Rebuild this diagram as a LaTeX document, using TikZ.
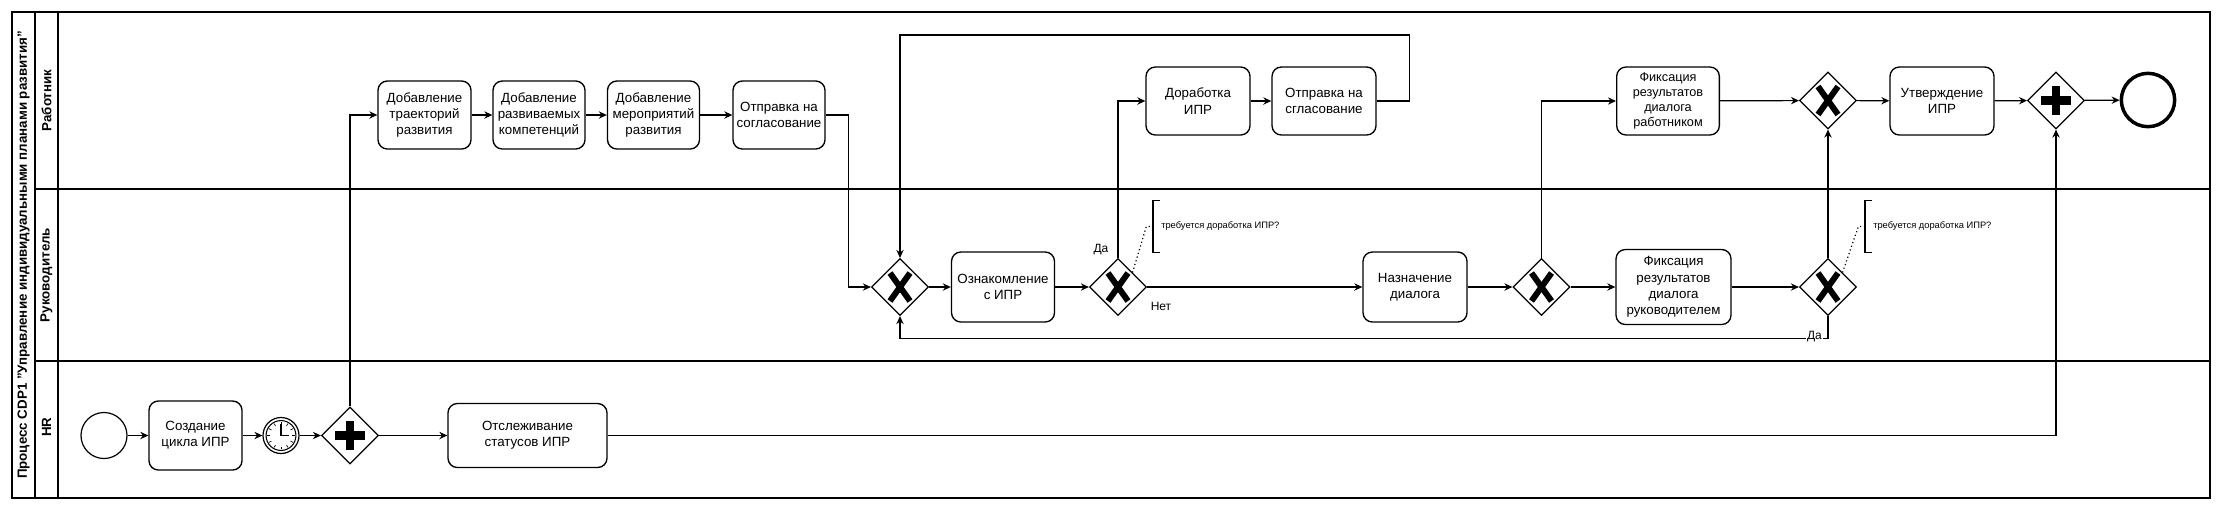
\documentclass[tikz,border=0pt]{standalone}
\usepackage{fontspec}
\setmainfont{Liberation Sans}
\usetikzlibrary{shapes.geometric, arrows.meta}

\begin{document}
\begin{tikzpicture}[x=0.75pt, y=-0.75pt,
  tsk/.style={rectangle,rounded corners=7pt,draw,line width=1pt,align=center,font=\fontsize{10}{12.2}\selectfont,inner sep=1pt,minimum width=69pt,minimum height=51pt},
  gw/.style={diamond,draw,line width=0.9pt,minimum width=42.75pt,minimum height=42.75pt,inner sep=0pt},
  stev/.style={circle,draw,line width=0.9pt,minimum size=34.5pt,inner sep=0pt},
  tmr/.style={circle,draw,line width=0.9pt,minimum size=27pt,inner sep=0pt},
  endev/.style={circle,draw,line width=2.6pt,minimum size=40pt,inner sep=0pt},
  ttl/.style={rotate=90,font=\bfseries\fontsize{10}{12}\selectfont},
  flow/.style={-{Stealth[length=6pt,width=5.5pt]},line width=0.9pt},
  xmark/.style={line width=4.5pt},
  pmark/.style={line width=6.5pt},
  note/.style={anchor=west,font=\fontsize{7}{8}\selectfont,minimum height=38.25pt,inner xsep=6pt,inner ysep=0pt},
  brk/.style={line width=0.9pt},
  assoc/.style={dotted,line width=0.9pt},
  lbl/.style={font=\fontsize{9}{10}\selectfont,inner sep=1pt}
]
  \useasboundingbox (0,0) rectangle (2225,512);
  % пул и дорожки
  \draw[line width=1pt] (12,12) rectangle (2210,498);
  \draw[line width=1pt] (35,12) -- (35,498) (58,12) -- (58,498);
  \draw[line width=1pt] (35,189) -- (2210,189) (35,361) -- (2210,361);
  \node[ttl] (pool) at (23.5,255) {Процесс CDP1 "Управление индивидуальными планами развития"};
  \node[ttl] (ln1) at (46.5,100.5) {Работник};
  \node[ttl] (ln2) at (46.5,275) {Руководитель};
  \node[ttl] (ln3) at (46.5,427) {HR};

  % Работник
  \node[tsk,minimum width=69.75pt] (t1) at (424.5,115) {Добавление\\траекторий\\развития};
  \node[tsk] (t2) at (539,115) {Добавление\\развиваемых\\компетенций};
  \node[tsk] (t3) at (653.5,115) {Добавление\\мероприятий\\развития};
  \node[tsk] (t4) at (779,115) {Отправка на\\согласование};
  \node[tsk,minimum width=78pt] (t5) at (1198,101) {Доработка\\ИПР};
  \node[tsk,minimum width=78pt] (t6) at (1324,101) {Отправка на\\сгласование};
  \node[tsk,minimum width=77pt,font=\fontsize{9.5}{11.3}\selectfont] (t7) at (1668,101) {Фиксация\\результатов\\диалога\\работником};
  \node[gw] (g5) at (1828,100.5) {};
  \node[tsk,minimum width=78pt] (t8) at (1942,101) {Утверждение\\ИПР};
  \node[gw] (g6) at (2056,100.5) {};
  \node[endev] (end) at (2148,100) {};

  % Руководитель
  \node[gw] (g1) at (900,287) {};
  \node[tsk,minimum width=77.25pt,minimum height=52.5pt] (t9) at (1003,287) {Ознакомление\\с ИПР};
  \node[gw] (g2) at (1118,287) {};
  \node[tsk,minimum width=78pt,minimum height=52.5pt] (t10) at (1415,287) {Назначение\\диалога};
  \node[gw] (g3) at (1541.5,287) {};
  \node[tsk,minimum width=86.25pt,minimum height=56.25pt] (t11) at (1673.5,287) {Фиксация\\результатов\\диалога\\руководителем};
  \node[gw] (g4) at (1828,287) {};

  % HR
  \node[stev] (st) at (104,435.5) {};
  \node[tsk,minimum width=69.75pt,minimum height=51.75pt] (t12) at (195.5,435.5) {Создание\\цикла ИПР};
  \node[tmr] (tm) at (281,435.5) {};
  \node[gw] (g0) at (350,435.5) {};
  \node[tsk,minimum width=119.25pt,minimum height=48pt] (t13) at (527.5,435.5) {Отслеживание\\статусов ИПР};

  % маркеры шлюзов и таймер
  \foreach \g in {g1,g2,g3,g4,g5}{
    \draw[xmark] (\g.center) ++(-7.5pt,-10.5pt) -- ++(15pt,21pt);
    \draw[xmark] (\g.center) ++(7.5pt,-10.5pt) -- ++(-15pt,21pt);
  }
  \foreach \g in {g0,g6}{
    \draw[pmark] (\g.center) ++(-11pt,0pt) -- ++(22pt,0pt);
    \draw[pmark] (\g.center) ++(0pt,-11pt) -- ++(0pt,22pt);
  }
  \draw[line width=0.8pt] (tm.center) circle[radius=11.2pt];
  \foreach \a in {0,30,...,330}{\draw[line width=0.5pt] (tm.center) ++(\a:8.3pt) -- ++(\a:2pt);}
  \draw[line width=0.8pt] (tm.center) ++(0pt,8.5pt) -- (tm.center) -- ++(6pt,0pt);

  % потоки HR
  \draw[flow] (st) -- (t12);
  \draw[flow] (t12) -- (tm);
  \draw[flow] (tm) -- (g0);
  \draw[flow] (g0) -- (t13);
  \draw[flow] (g0.north) |- (t1.west);
  \draw[flow] (t13.east) -| (g6.south);

  % потоки Работник
  \draw[flow] (t1) -- (t2);
  \draw[flow] (t2) -- (t3);
  \draw[flow] (t3) -- (t4);
  \draw[flow] (t4.east) -- ++(23,0) |- (g1.west);
  \draw[flow] (t5) -- (t6);
  \draw[flow] (t6.east) -| ++(33,-66) -| (g1.north);
  \draw[flow] (t7) -- (g5);
  \draw[flow] (g5) -- (t8);
  \draw[flow] (t8) -- (g6);
  \draw[flow] (g6) -- (end);

  % потоки Руководитель
  \draw[flow] (g1) -- (t9);
  \draw[flow] (t9) -- (g2);
  \draw[flow] (g2) -- (t10);
  \draw[flow] (g2.north) |- (t5.west);
  \draw[flow] (t10) -- (g3);
  \draw[flow] (g3.north) |- (t7.west);
  \draw[flow] (g3) -- (t11);
  \draw[flow] (t11) -- (g4);
  \draw[flow] (g4.north) -- (g5.south);
  \draw[flow] (g4.south) -- ++(0,22.5) -| (g1.south);
  \node[lbl] (yes1) at (1101,250) {Да};
  \node[lbl] (no1) at (1161,306) {Нет};
  \node[lbl,fill=white] (yes2) at (1814.5,337) {Да};

  % аннотации
  \node[note] (n1) at (1153,226.5) {требуется доработка ИПР?};
  \draw[brk] ([xshift=5pt]n1.north west) -- (n1.north west) -- (n1.south west) -- ([xshift=5pt]n1.south west);
  \draw[assoc] (g2.north east) -- ([xshift=-5pt]n1.west) -- (n1.west);
  \node[note] (n2) at (1865,226.5) {требуется доработка ИПР?};
  \draw[brk] ([xshift=5pt]n2.north west) -- (n2.north west) -- (n2.south west) -- ([xshift=5pt]n2.south west);
  \draw[assoc] (g4.north east) -- ([xshift=-5pt]n2.west) -- (n2.west);
\end{tikzpicture}
\end{document}
